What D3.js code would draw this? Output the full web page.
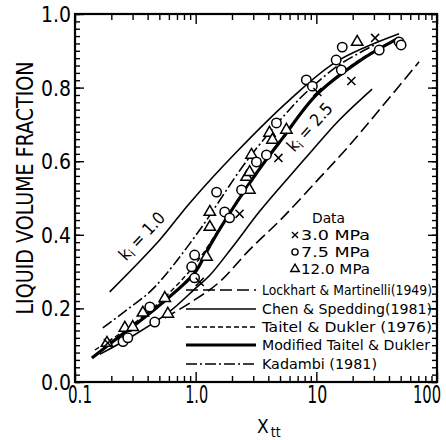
<!DOCTYPE html>
<html><head><meta charset="utf-8">
<script src="https://cdn.jsdelivr.net/npm/d3@7"></script>
<style>body{margin:0;background:#fff}</style>
</head><body><svg id="c" width="446" height="440"></svg>
<script>
// ---------- data ----------
const xMajorTicks = [0.1, 1, 10, 100];
const xMajorLabels = ["0.1", "1.0", "10", "100"];
const xMinorTicks = [0.2,0.3,0.4,0.5,0.6,0.7,0.8,0.9,2,3,4,5,6,7,8,9,20,30,40,50,60,70,80,90];
const yMajorTicks = [0, 0.2, 0.4, 0.6, 0.8, 1.0];
const yMajorLabels = ["0.0", "0.2", "0.4", "0.6", "0.8", "1.0"];
const yMinorTicks = d3.range(0, 51).map(i => i / 50);

// measured data [X_tt, liquid volume fraction]
const data30 = [[0.187,0.106],[1.08,0.272],[2.31,0.457],[4.85,0.609],[10.2,0.788],[19.5,0.818],[30.7,0.935]];
const data75 = [[0.25,0.11],[0.274,0.12],[0.417,0.204],[0.458,0.163],[0.927,0.313],[0.98,0.345],[0.98,0.283],
  [1.49,0.516],[1.74,0.462],[1.91,0.446],[2.40,0.522],[3.19,0.598],[3.86,0.617],[4.67,0.704],
  [8.26,0.821],[9.27,0.804],[14.6,0.875],[16.1,0.848],[16.4,0.91],[33.2,0.902],[48.5,0.924],[50.4,0.916]];
const data120 = [[0.184,0.106],[0.259,0.147],[0.301,0.149],[0.365,0.188],[0.555,0.228],[0.588,0.185],
  [1.23,0.34],[1.31,0.421],[1.31,0.462],[2.64,0.557],[2.8,0.57],[2.79,0.522],[2.90,0.617],[4.09,0.677],
  [4.33,0.658],[5.65,0.685],[21.8,0.924]];

// model curves
const chenKi10 = [[0.194,0.245],[0.503,0.386],[0.891,0.486],[2.18,0.625],[5.98,0.766],[14.6,0.870],[48.5,0.946]];
const chenKi25 = [[0.16,0.075],[0.3,0.125],[0.6,0.19],[1.0,0.255],[1.31,0.29],[2.02,0.367],[3.38,0.463],[5.65,0.549],[9.27,0.63],[15.5,0.712],[29,0.796]];
const lockhart = [[0.555,0.174],[0.98,0.223],[1.58,0.272],[2.79,0.359],[5.24,0.446],[10.6,0.554],[18.0,0.636],[33.2,0.739],[71.0,0.870]];
const taitel = [[0.146,0.087],[0.259,0.141],[0.503,0.217],[0.98,0.318],[1.74,0.44],[3.07,0.5625],[5.44,0.671],[10.6,0.788],[22.7,0.875],[44.1,0.929]];
const modTaitel = [[0.138,0.065],[0.236,0.125],[0.365,0.172],[0.575,0.225],[0.81,0.268],[1.0,0.30],[1.31,0.37],[1.80,0.445],[2.79,0.54],[3.86,0.605],[5.24,0.662],[10.0,0.78],[22.7,0.872],[48.5,0.935]];
const kadambi = [[0.17,0.147],[0.269,0.196],[0.417,0.245],[0.575,0.295],[1.08,0.413],[2.64,0.6],[5.98,0.74],[8.75,0.795],[15.5,0.862],[30,0.915]];

const legendSeries = ["3.0 MPa", "7.5 MPa", "12.0 MPa"];
const legendLines = ["Lockhart & Martinelli(1949)", "Chen & Spedding(1981)", "Taitel & Dukler (1976)", "Modified Taitel & Dukler", "Kadambi (1981)"];

// ---------- drawing ----------
const narrow = "'Liberation Sans Narrow','DejaVu Sans Condensed','Arial Narrow',sans-serif";
const svg = d3.select("#c");
const x = d3.scaleLog().domain([0.1, 100]).range([75, 437]);
const y = d3.scaleLinear().domain([0, 1]).range([382, 14]);
const [x0, x1] = x.range(), [y0, y1] = y.range();

function ax(gen, tx, ty) {
  const g = svg.append("g").attr("transform", `translate(${tx},${ty})`).call(gen);
  g.select(".domain").remove();
  g.selectAll("line").attr("stroke", "#000").attr("stroke-width", 1.4);
  return g;
}
ax(d3.axisBottom(x).tickValues(xMinorTicks).tickSize(-6).tickFormat(""), 0, y0);
ax(d3.axisBottom(x).tickValues(xMajorTicks).tickSize(-10).tickFormat(""), 0, y0);
ax(d3.axisTop(x).tickValues(xMinorTicks).tickSize(-6).tickFormat(""), 0, y1);
ax(d3.axisTop(x).tickValues(xMajorTicks).tickSize(-10).tickFormat(""), 0, y1);
ax(d3.axisLeft(y).tickValues(yMinorTicks).tickSize(-5).tickFormat(""), x0, 0);
ax(d3.axisLeft(y).tickValues(yMajorTicks).tickSize(-9).tickFormat(""), x0, 0);
ax(d3.axisRight(y).tickValues(yMinorTicks).tickSize(-5).tickFormat(""), x1, 0);
ax(d3.axisRight(y).tickValues(yMajorTicks).tickSize(-9).tickFormat(""), x1, 0);

svg.append("rect").attr("x", x0).attr("y", y1).attr("width", x1 - x0).attr("height", y0 - y1)
  .attr("fill", "none").attr("stroke", "#000").attr("stroke-width", 2.2);

// tick labels
const xLabelShift = [5, 1, 1, -10];
const xLabelW = [24, 23, 20, 28];
svg.append("g").selectAll("text").data(xMajorTicks).join("text")
  .attr("x", (d, i) => x(d) + xLabelShift[i]).attr("y", y0 + 21)
  .attr("text-anchor", "middle").attr("font-family", narrow).attr("font-size", 24)
  .attr("textLength", (d, i) => xLabelW[i]).attr("lengthAdjust", "spacingAndGlyphs")
  .text((d, i) => xMajorLabels[i]);
svg.append("g").selectAll("text").data(yMajorTicks).join("text")
  .attr("x", x0 - 4).attr("y", d => y(d) + 8)
  .attr("text-anchor", "end").attr("font-family", narrow).attr("font-size", 21)
  .attr("textLength", 30).attr("lengthAdjust", "spacingAndGlyphs")
  .text((d, i) => yMajorLabels[i]);

// axis titles
svg.append("text").attr("transform", `translate(33,${(y0 + y1) / 2 - 10}) rotate(-90)`)
  .attr("text-anchor", "middle").attr("font-family", narrow).attr("font-size", 23)
  .attr("textLength", 253).attr("lengthAdjust", "spacingAndGlyphs")
  .text("LIQUID VOLUME FRACTION");
const xt = svg.append("text").attr("x", 257).attr("y", 433).attr("font-family", narrow).attr("font-size", 19);
xt.append("tspan").text("X");
xt.append("tspan").attr("font-size", 14).attr("dy", 4).attr("dx", 2).text("tt");

// lines
const line = d3.line().x(d => x(d[0])).y(d => y(d[1])).curve(d3.curveCatmullRom.alpha(0.5));
const curves = [
  {d: lockhart, w: 1.6, dash: "12,5"},
  {d: chenKi10, w: 1.6, dash: null},
  {d: chenKi25, w: 1.6, dash: null},
  {d: taitel, w: 1.4, dash: "5,3"},
  {d: kadambi, w: 1.6, dash: "11,3,2,3"},
  {d: modTaitel, w: 3.2, dash: null}
];
svg.append("g").selectAll("path").data(curves).join("path")
  .attr("d", c => line(c.d)).attr("fill", "none").attr("stroke", "#000")
  .attr("stroke-width", c => c.w).attr("stroke-dasharray", c => c.dash);

// markers
const sym = {
  cross: d3.symbol().type(d3.symbolX).size(44),
  circle: d3.symbol().type(d3.symbolCircle).size(70),
  tri: d3.symbol().type(d3.symbolTriangle).size(56)
};
function markers(arr, s, fill) {
  svg.append("g").selectAll("path").data(arr).join("path")
    .attr("transform", d => `translate(${x(d[0])},${y(d[1])})`)
    .attr("d", s).attr("fill", fill).attr("stroke", "#000").attr("stroke-width", 1.5);
}
markers(data120, sym.tri(), "#fff");
markers(data75, sym.circle(), "#fff");
markers(data30, sym.cross(), "none");

// ki labels
function kiLabel(cx, cy, ang, val) {
  const t = svg.append("text").attr("transform", `translate(${cx},${cy}) rotate(${ang})`)
    .attr("text-anchor", "middle").attr("font-family", narrow).attr("font-size", 17);
  t.append("tspan").text("k");
  t.append("tspan").attr("font-size", 12).attr("dy", 3).text("i");
  t.append("tspan").attr("dy", -3).text(" = " + val);
}
kiLabel(146, 240, -47, "1.0");
kiLabel(314, 131, -48, "2.5");

// legend
const lg = svg.append("g").attr("font-family", narrow).attr("font-size", 14.5);
lg.append("text").attr("x", 312).attr("y", 223).attr("textLength", 33).attr("lengthAdjust", "spacingAndGlyphs").text("Data");
const rowsY = [240, 257, 274];
const legSyms = [[d3.symbol().type(d3.symbolX).size(26)(), "none"], [d3.symbol().type(d3.symbolCircle).size(30)(), "#fff"], [d3.symbol().type(d3.symbolTriangle).size(32)(), "#fff"]];
legendSeries.forEach((s, i) => {
  lg.append("path").attr("transform", `translate(295,${rowsY[i] - 5})`).attr("d", legSyms[i][0])
    .attr("fill", legSyms[i][1]).attr("stroke", "#000").attr("stroke-width", 1.4);
  lg.append("text").attr("x", 301).attr("y", rowsY[i]).attr("textLength", 69).attr("lengthAdjust", "spacingAndGlyphs").text(s);
});
const lineRowsY = [295, 314, 332, 350, 369];
const lineW = [170, 170, 170, 168, 115];
const lineStyles = [{w: 1.6, dash: "12,5"}, {w: 1.6, dash: null}, {w: 1.4, dash: "5,3"}, {w: 3.2, dash: null}, {w: 1.6, dash: "11,3,2,3"}];
legendLines.forEach((s, i) => {
  lg.append("line").attr("x1", 186).attr("x2", 256).attr("y1", lineRowsY[i] - 5).attr("y2", lineRowsY[i] - 5)
    .attr("stroke", "#000").attr("stroke-width", lineStyles[i].w).attr("stroke-dasharray", lineStyles[i].dash);
  lg.append("text").attr("x", 262).attr("y", lineRowsY[i]).attr("textLength", lineW[i]).attr("lengthAdjust", "spacingAndGlyphs").text(s);
});
</script></body></html>
